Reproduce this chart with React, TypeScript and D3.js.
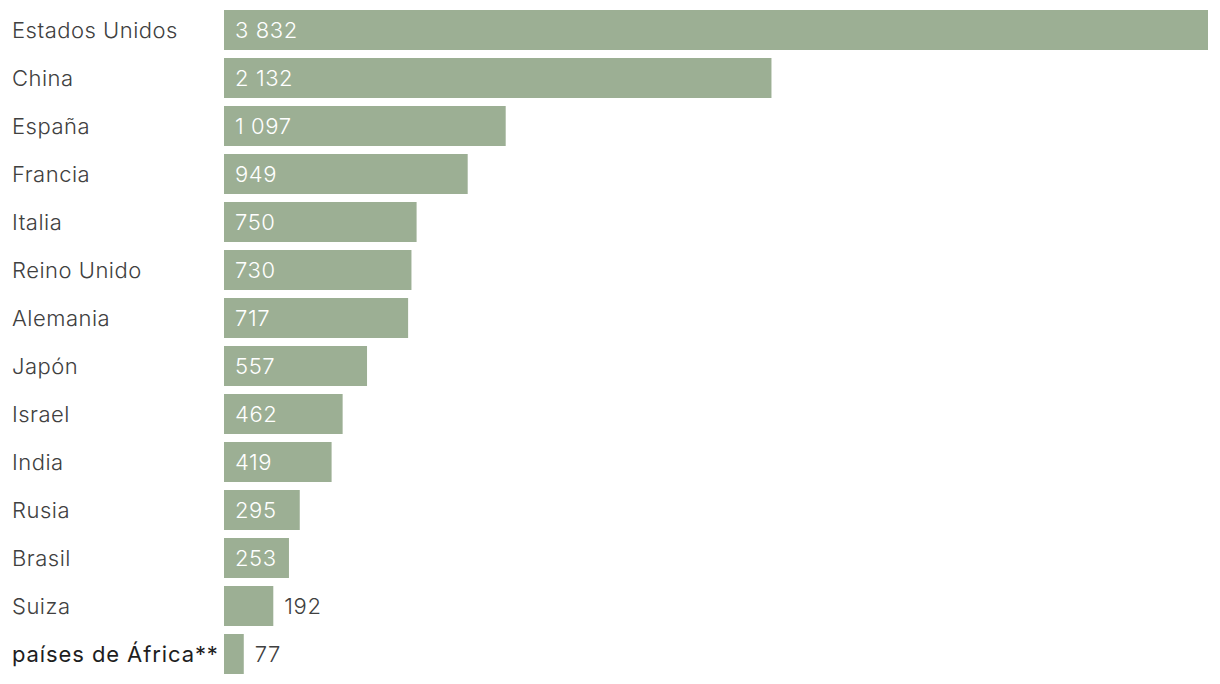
import React from "react";
import * as d3 from "d3";

const width = 1220;
const height = 684;
const margin = { top: 10, right: 12, bottom: 10, left: 224 };

const countries = [
  "Estados Unidos",
  "China",
  "España",
  "Francia",
  "Italia",
  "Reino Unido",
  "Alemania",
  "Japón",
  "Israel",
  "India",
  "Rusia",
  "Brasil",
  "Suiza",
  "países de África**",
];
const values = [3832, 2132, 1097, 949, 750, 730, 717, 557, 462, 419, 295, 253, 192, 77];

const barColor = "#9caf94";
const textColor = "#404040";
const font = "Inter, 'Noto Sans', sans-serif";

const fmt = (v: number) => d3.format(",")(v).replace(/,/g, " ");

export default function App() {
  const x = d3
    .scaleLinear()
    .domain([0, d3.max(values) as number])
    .range([margin.left, width - margin.right]);

  // step 48, bar 40
  const y = d3
    .scaleBand()
    .domain(countries)
    .range([margin.top, height - margin.bottom])
    .paddingInner(8 / 48)
    .paddingOuter(0);

  return (
    <svg
      width={width}
      height={height}
      style={{ position: "absolute", left: 0, top: 0, display: "block" }}
      fontFamily={font}
    >
      {countries.map((c, i) => {
        const v = values[i];
        const w = x(v) - x(0);
        const yy = y(c) as number;
        const mid = yy + y.bandwidth() / 2;
        const inside = w > 55;
        const last = i === countries.length - 1;
        return (
          <g key={c}>
            <text
              x={12}
              y={mid}
              dy="0.36em"
              fontSize={22}
              fontWeight={last ? 400 : 300}
              letterSpacing={last ? 0.9 : 0.5}
              fill={last ? "#1e1e1e" : textColor}
            >
              {c}
            </text>
            <rect x={x(0)} y={yy} width={w} height={y.bandwidth()} fill={barColor} />
            <text
              x={inside ? x(0) + 11 : x(v) + 11}
              y={mid}
              dy="0.36em"
              fontSize={22}
              fontWeight={300}
              letterSpacing={0.6}
              fill={inside ? "#ffffff" : textColor}
            >
              {fmt(v)}
            </text>
          </g>
        );
      })}
    </svg>
  );
}
